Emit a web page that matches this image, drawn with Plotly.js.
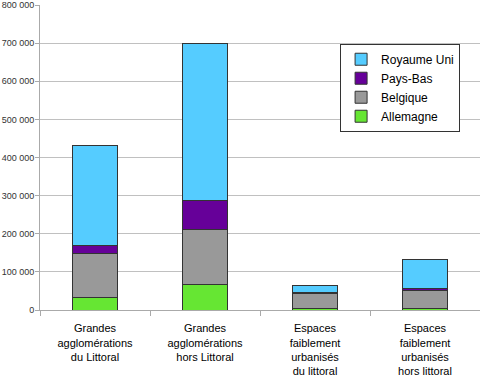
<!DOCTYPE html>
<html><head><meta charset="utf-8">
<script src="https://cdn.plot.ly/plotly-3.0.1.min.js"></script>
<style>html,body{margin:0;padding:0;background:#fff}#c{width:480px;height:376px}</style>
</head><body><div id="c"></div>
<script>
const categories = ["Grandes<br>agglomérations<br>du Littoral","Grandes<br>agglomérations<br>hors Littoral","Espaces<br>faiblement<br>urbanisés<br>du littoral","Espaces<br>faiblement<br>urbanisés<br>hors littoral"];
const allemagne = [34000, 68000, 3000, 5000];
const belgique = [115000, 144000, 40000, 45000];
const paysBas = [21000, 76000, 4000, 7000];
const royaumeUni = [262000, 412000, 18000, 76000];
const yTicks = [0,100000,200000,300000,400000,500000,600000,700000,800000];

const line = {color:'#333333', width:1};
function tr(name, y, color){
  return {type:'bar', name:name, x:categories, y:y, marker:{color:color, line:line}, width:0.41, hoverinfo:'none'};
}
const data = [
  tr('Allemagne', allemagne, '#66E633'),
  tr('Belgique', belgique, '#999999'),
  tr('Pays-Bas', paysBas, '#660099'),
  tr('Royaume Uni', royaumeUni, '#55CCFF')
];
const layout = {
  width:480, height:376,
  margin:{l:40, r:0, t:5, b:66},
  barmode:'stack',
  separators:', ',
  paper_bgcolor:'#fff', plot_bgcolor:'#fff',
  font:{family:'Liberation Sans, Arial, sans-serif', size:12, color:'#000'},
  xaxis:{type:'category', showline:true, linecolor:'#aaa', linewidth:1, ticks:'outside', tickson:'boundaries', ticklen:5, tickcolor:'#aaa', showgrid:false, tickfont:{size:11, color:'#000'}, ticklabelstandoff:8},
  yaxis:{range:[0,800000], tickvals:yTicks, tickformat:',d', showline:true, linecolor:'#aaa', linewidth:1, ticks:'outside', ticklen:4, tickcolor:'#aaa', gridcolor:'#c0c0c0', gridwidth:1, zeroline:false, tickfont:{size:9, color:'#333'}, ticklabelstandoff:-1, ticklabeloverflow:'allow', fixedrange:true},
  showlegend:true,
  legend:{x:0.682, y:0.873, xanchor:'left', yanchor:'top', traceorder:'reversed', bgcolor:'#fff', bordercolor:'#333', borderwidth:1, font:{size:12, color:'#000'}, tracegroupgap:0}
};
Plotly.newPlot('c', data, layout, {staticPlot:true, displayModeBar:false});
</script></body></html>
